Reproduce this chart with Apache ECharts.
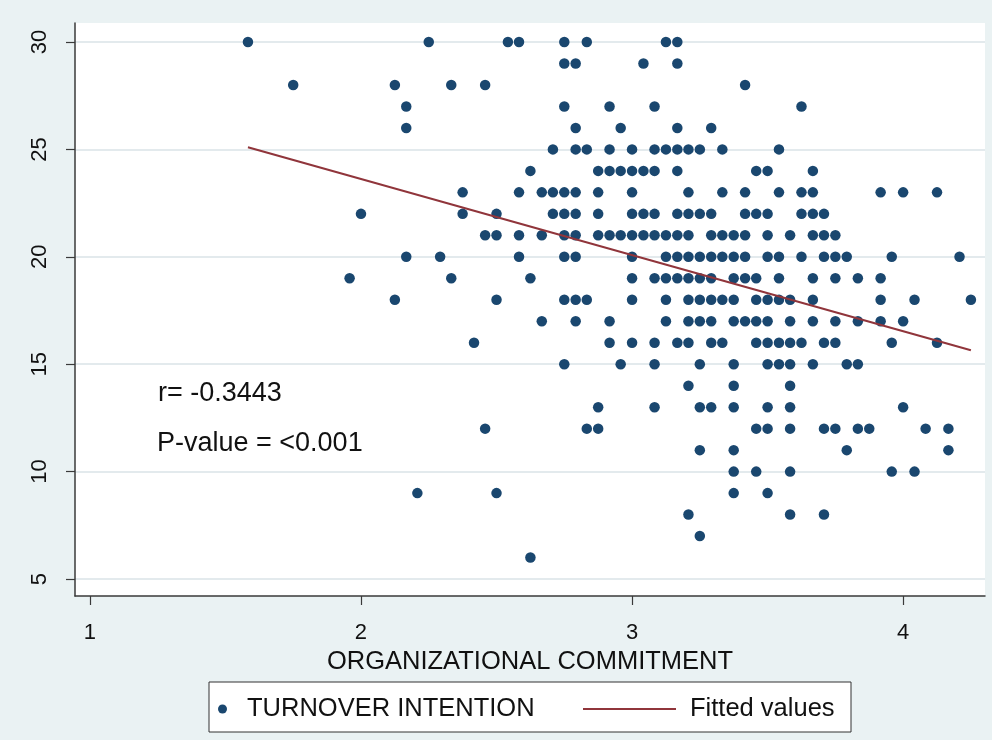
<!DOCTYPE html>
<html>
<head>
<meta charset="utf-8">
<script src="https://cdn.jsdelivr.net/npm/echarts@6/dist/echarts.min.js"></script>
<style>
html,body{margin:0;padding:0;background:#eaf2f3;}
#chart{width:992px;height:740px;}
</style>
</head>
<body>
<div id="chart"></div>
<script>
// Y values (TURNOVER INTENTION) and, for each, the ORGANIZATIONAL COMMITMENT values observed
const turnoverLevels = [30,29,28,27,26,25,24,23,22,21,20,19,18,17,16,15,14,13,12,11,10,9,8,7,6];
const commitmentByLevel = [
  [1.583,2.25,2.542,2.583,2.75,2.833,3.125,3.167],
  [2.75,2.792,3.042,3.167],
  [1.75,2.125,2.333,2.458,3.417],
  [2.167,2.75,2.917,3.083,3.625],
  [2.167,2.792,2.958,3.167,3.292],
  [2.708,2.792,2.833,2.917,3.0,3.083,3.125,3.167,3.208,3.25,3.333,3.542],
  [2.625,2.875,2.917,2.958,3.0,3.042,3.083,3.167,3.458,3.5,3.667],
  [2.375,2.583,2.667,2.708,2.75,2.792,2.875,3.0,3.208,3.333,3.417,3.542,3.625,3.667,3.917,4.0,4.125],
  [2.0,2.375,2.5,2.708,2.75,2.792,2.875,3.0,3.042,3.083,3.167,3.208,3.25,3.292,3.417,3.458,3.5,3.625,3.667,3.708],
  [2.458,2.5,2.583,2.667,2.75,2.792,2.875,2.917,2.958,3.0,3.042,3.083,3.125,3.167,3.208,3.292,3.333,3.375,3.417,3.5,3.583,3.667,3.708,3.75],
  [2.167,2.292,2.583,2.75,2.792,3.0,3.125,3.167,3.208,3.25,3.292,3.333,3.375,3.417,3.5,3.542,3.625,3.708,3.75,3.792,3.958,4.208],
  [1.958,2.333,2.625,3.0,3.083,3.125,3.167,3.208,3.25,3.292,3.375,3.417,3.458,3.542,3.667,3.75,3.833,3.917],
  [2.125,2.5,2.75,2.792,2.833,3.0,3.125,3.208,3.25,3.292,3.333,3.375,3.458,3.5,3.542,3.583,3.667,3.917,4.042,4.25],
  [2.667,2.792,2.917,3.125,3.208,3.25,3.292,3.375,3.417,3.458,3.5,3.583,3.667,3.75,3.833,3.917,4.0],
  [2.417,2.917,3.0,3.083,3.167,3.208,3.292,3.333,3.458,3.5,3.542,3.583,3.625,3.708,3.75,3.958,4.125],
  [2.75,2.958,3.083,3.25,3.375,3.5,3.542,3.583,3.667,3.792,3.833],
  [3.208,3.375,3.583],
  [2.875,3.083,3.25,3.292,3.375,3.5,3.583,4.0],
  [2.458,2.833,2.875,3.458,3.5,3.583,3.708,3.75,3.833,3.875,4.083,4.167],
  [3.25,3.375,3.792,4.167],
  [3.375,3.458,3.583,3.958,4.042],
  [2.208,2.5,3.375,3.5],
  [3.208,3.583,3.708],
  [3.25],
  [2.625]
];
// Fitted regression line end points
const fittedX = [1.583, 4.25];
const fittedY = [25.1, 15.65];
// Tick labels
const xTicks = [1, 2, 3, 4];
const yTicks = [5, 10, 15, 20, 25, 30];

const scatterData = [];
turnoverLevels.forEach((lv, i) => {
  commitmentByLevel[i].forEach(x => scatterData.push([x, lv]));
});
const fittedData = fittedX.map((x, i) => [x, fittedY[i]]);

const FONT = '"Liberation Sans", Arial, sans-serif';
const chart = echarts.init(document.getElementById('chart'), null, {renderer: 'canvas'});
chart.setOption({
  animation: false,
  backgroundColor: '#eaf2f3',
  textStyle: {fontFamily: FONT},
  grid: {
    left: 75, right: 7, top: 23, bottom: 144,
    show: true, backgroundColor: '#ffffff', borderWidth: 0,
    containLabel: false, outerBoundsMode: 'none'
  },
  xAxis: {
    type: 'value',
    min: 0.945, max: 4.302,
    name: 'ORGANIZATIONAL COMMITMENT',
    nameLocation: 'middle',
    nameGap: 47,
    nameTextStyle: {fontSize: 25.5, color: '#111', fontFamily: FONT},
    axisLine: {show: true, onZero: false, lineStyle: {color: '#3a3a3a', width: 1.5}},
    axisTick: {show: true, length: 9, customValues: xTicks, lineStyle: {color: '#3a3a3a', width: 1.2}},
    axisLabel: {show: true, customValues: xTicks, fontSize: 22, color: '#111', margin: 26, fontFamily: FONT},
    splitLine: {show: false}
  },
  yAxis: {
    type: 'value',
    min: 4.209, max: 30.885,
    axisLine: {show: true, onZero: false, lineStyle: {color: '#3a3a3a', width: 1.5}},
    axisTick: {show: true, length: 9, customValues: yTicks, lineStyle: {color: '#3a3a3a', width: 1.2}},
    axisLabel: {show: true, customValues: yTicks, rotate: 90, fontSize: 22, color: '#111', margin: 24, fontFamily: FONT},
    splitLine: {show: true, lineStyle: {color: '#e3eaed', width: 2}}
  },
  legend: [
    {
      data: [{name: 'TURNOVER INTENTION', icon: 'circle'}],
      left: 218, top: 696, padding: 0,
      itemWidth: 9, itemHeight: 9,
      textStyle: {fontSize: 25.5, color: '#111', padding: [0, 0, 0, 15], fontFamily: FONT},
      z: 10
    },
    {
      data: [{name: 'Fitted values', icon: 'rect'}],
      left: 583, top: 696, padding: 0,
      itemWidth: 93, itemHeight: 2,
      textStyle: {fontSize: 25.5, color: '#111', padding: [0, 0, 0, 9], fontFamily: FONT},
      z: 10
    }
  ],
  graphic: [
    {type: 'rect', z: 1, shape: {x: 209, y: 682, width: 642, height: 50},
     style: {fill: '#ffffff', stroke: '#333333', lineWidth: 1}},
    {type: 'text', z: 5, x: 158, y: 394,
     style: {text: 'r= -0.3443', fontSize: 27, fontFamily: FONT, fill: '#111', verticalAlign: 'middle'}},
    {type: 'text', z: 5, x: 157, y: 444,
     style: {text: 'P-value = <0.001', fontSize: 27, fontFamily: FONT, fill: '#111', verticalAlign: 'middle'}}
  ],
  series: [
    {
      name: 'TURNOVER INTENTION',
      type: 'scatter',
      data: scatterData,
      symbol: 'circle',
      symbolSize: 10.5,
      itemStyle: {color: '#1a476f', opacity: 1},
      z: 3
    },
    {
      name: 'Fitted values',
      type: 'line',
      data: fittedData,
      symbol: 'none',
      showSymbol: false,
      lineStyle: {color: '#90353b', width: 2},
      itemStyle: {color: '#90353b'},
      z: 4
    }
  ]
});
</script>
</body>
</html>
